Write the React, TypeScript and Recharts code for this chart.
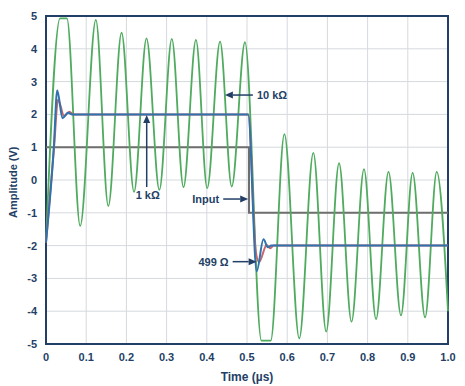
import { CartesianGrid, Line, LineChart, ReferenceArea, ReferenceDot, XAxis, YAxis } from "recharts";

// time (µs) / amplitude (V) samples
const t10k = [0, 0.035, 0.052, 0.085, 0.124, 0.155, 0.188, 0.219, 0.25, 0.282, 0.313, 0.342, 0.373, 0.401, 0.433, 0.462, 0.495,
  0.536, 0.559, 0.593, 0.63, 0.665, 0.697, 0.729, 0.76, 0.791, 0.821, 0.852, 0.883, 0.912, 0.943, 0.972, 1.0];
const v10k = [-1.9, 4.93, 4.93, -1.4, 4.88, -0.79, 4.49, -0.36, 4.32, -0.3, 4.3, -0.22, 4.27, -0.25, 4.22, -0.2, 4.2,
  -4.9, -4.9, 1.4, -4.83, 0.83, -4.62, 0.51, -4.32, 0.33, -4.24, 0.25, -4.13, 0.22, -4.19, 0.25, -4.0];

const t1k = [0, 0.019, 0.028, 0.041, 0.055, 0.065, 0.503, 0.524, 0.541, 0.552, 0.56, 1.0];
const v1k = [-1.9, 0.9, 2.74, 1.88, 2.05, 2.0, 2.0, -2.78, -1.81, -2.05, -2.0, -2.0];

const t499 = [0, 0.02, 0.03, 0.045, 0.058, 0.068, 0.503, 0.522, 0.53, 0.549, 0.558, 0.566, 1.0];
const v499 = [-1.9, 1.0, 2.45, 1.95, 2.08, 2.0, 2.0, -2.2, -2.5, -1.98, -2.08, -2.0, -2.0];

const tIn = [0, 0.505, 0.505, 1.0];
const vIn = [1, 1, -1, -1];

const xTicks = [0, 0.1, 0.2, 0.3, 0.4, 0.5, 0.6, 0.7, 0.8, 0.9, 1.0];
const yTicks = [-5, -4, -3, -2, -1, 0, 1, 2, 3, 4, 5];

const zip = (ts: number[], vs: number[]) => ts.map((t, i) => ({ t, v: vs[i] }));

const NAVY = "#243f66";
const FONT = "'Liberation Sans', Arial, sans-serif";

function Arrow(props: any) {
  const { cx, cy, dir, len, label } = props;
  const h = 8, w = 3.5;
  let line, head, text;
  if (dir === "left") {
    line = <line x1={cx + h} y1={cy} x2={cx + len} y2={cy} />;
    head = `${cx},${cy} ${cx + h},${cy - w} ${cx + h},${cy + w}`;
    text = <text x={cx + len + 4} y={cy + 4} textAnchor="start">{label}</text>;
  } else if (dir === "right") {
    line = <line x1={cx - h} y1={cy} x2={cx - len} y2={cy} />;
    head = `${cx},${cy} ${cx - h},${cy - w} ${cx - h},${cy + w}`;
    text = <text x={cx - len - 4} y={cy + 4} textAnchor="end">{label}</text>;
  } else {
    line = <line x1={cx} y1={cy + h} x2={cx} y2={cy + len} />;
    head = `${cx},${cy} ${cx - w},${cy + h} ${cx + w},${cy + h}`;
    text = <text x={cx + 1} y={cy + len + 12} textAnchor="middle">{label}</text>;
  }
  return (
    <g stroke={NAVY} strokeWidth={1.5} fill={NAVY} fontFamily={FONT} fontWeight="bold" fontSize={11}>
      {line}
      <polygon points={head} stroke="none" />
      <g stroke="none">{text}</g>
    </g>
  );
}

export default function App() {
  const tickStyle = { fill: NAVY, fontSize: 11, fontWeight: "bold", fontFamily: FONT };
  return (
    <div style={{ position: "absolute", left: 0, top: 0, background: "#fff" }}>
      <LineChart width={465} height={386} margin={{ top: 16, right: 17, bottom: 2, left: 16 }}>
        <CartesianGrid stroke="#d6d9dd" strokeWidth={1} />
        <XAxis
          dataKey="t"
          type="number"
          domain={[0, 1]}
          ticks={xTicks}
          tickFormatter={(x) => (x === 0 ? "0" : Number(x).toFixed(1))}
          tick={tickStyle}
          tickLine={false}
          axisLine={false}
          tickSize={0}
          tickMargin={9}
          height={40}
          label={{ value: "Time (µs)", position: "insideBottom", offset: 3, fill: NAVY, fontSize: 12, fontWeight: "bold", fontFamily: FONT }}
        />
        <YAxis
          type="number"
          domain={[-5, 5]}
          ticks={yTicks}
          tick={tickStyle}
          tickLine={false}
          axisLine={false}
          tickSize={0}
          tickMargin={9}
          width={30}
          label={{ value: "Amplitude (V)", angle: -90, position: "insideLeft", offset: -3, dy: 38, fill: NAVY, fontSize: 11, fontWeight: "bold", fontFamily: FONT }}
        />
        <ReferenceArea x1={0} x2={1} y1={-5} y2={5} fill="none" stroke={NAVY} strokeWidth={2} strokeOpacity={1} />
        <Line data={zip(tIn, vIn)} dataKey="v" type="linear" stroke="#6e6e6e" strokeWidth={2} dot={false} isAnimationActive={false} />
        <Line data={zip(t10k, v10k)} dataKey="v" type="monotone" stroke="#4fab5e" strokeWidth={1.8} dot={false} isAnimationActive={false} />
        <Line data={zip(t499, v499)} dataKey="v" type="monotone" stroke="#c9646a" strokeWidth={2} dot={false} isAnimationActive={false} />
        <Line data={zip(t1k, v1k)} dataKey="v" type="monotone" stroke="#2f72ad" strokeWidth={2} dot={false} isAnimationActive={false} />
        <ReferenceDot x={0.445} y={2.59} r={0} shape={(p: any) => <Arrow {...p} dir="left" len={28} label="10 kΩ" />} />
        <ReferenceDot x={0.2505} y={1.98} r={0} shape={(p: any) => <Arrow {...p} dir="up" len={72} label="1 kΩ" />} />
        <ReferenceDot x={0.503} y={-0.58} r={0} shape={(p: any) => <Arrow {...p} dir="right" len={25} label="Input" />} />
        <ReferenceDot x={0.524} y={-2.49} r={0} shape={(p: any) => <Arrow {...p} dir="right" len={24} label="499 Ω" />} />
      </LineChart>
    </div>
  );
}
